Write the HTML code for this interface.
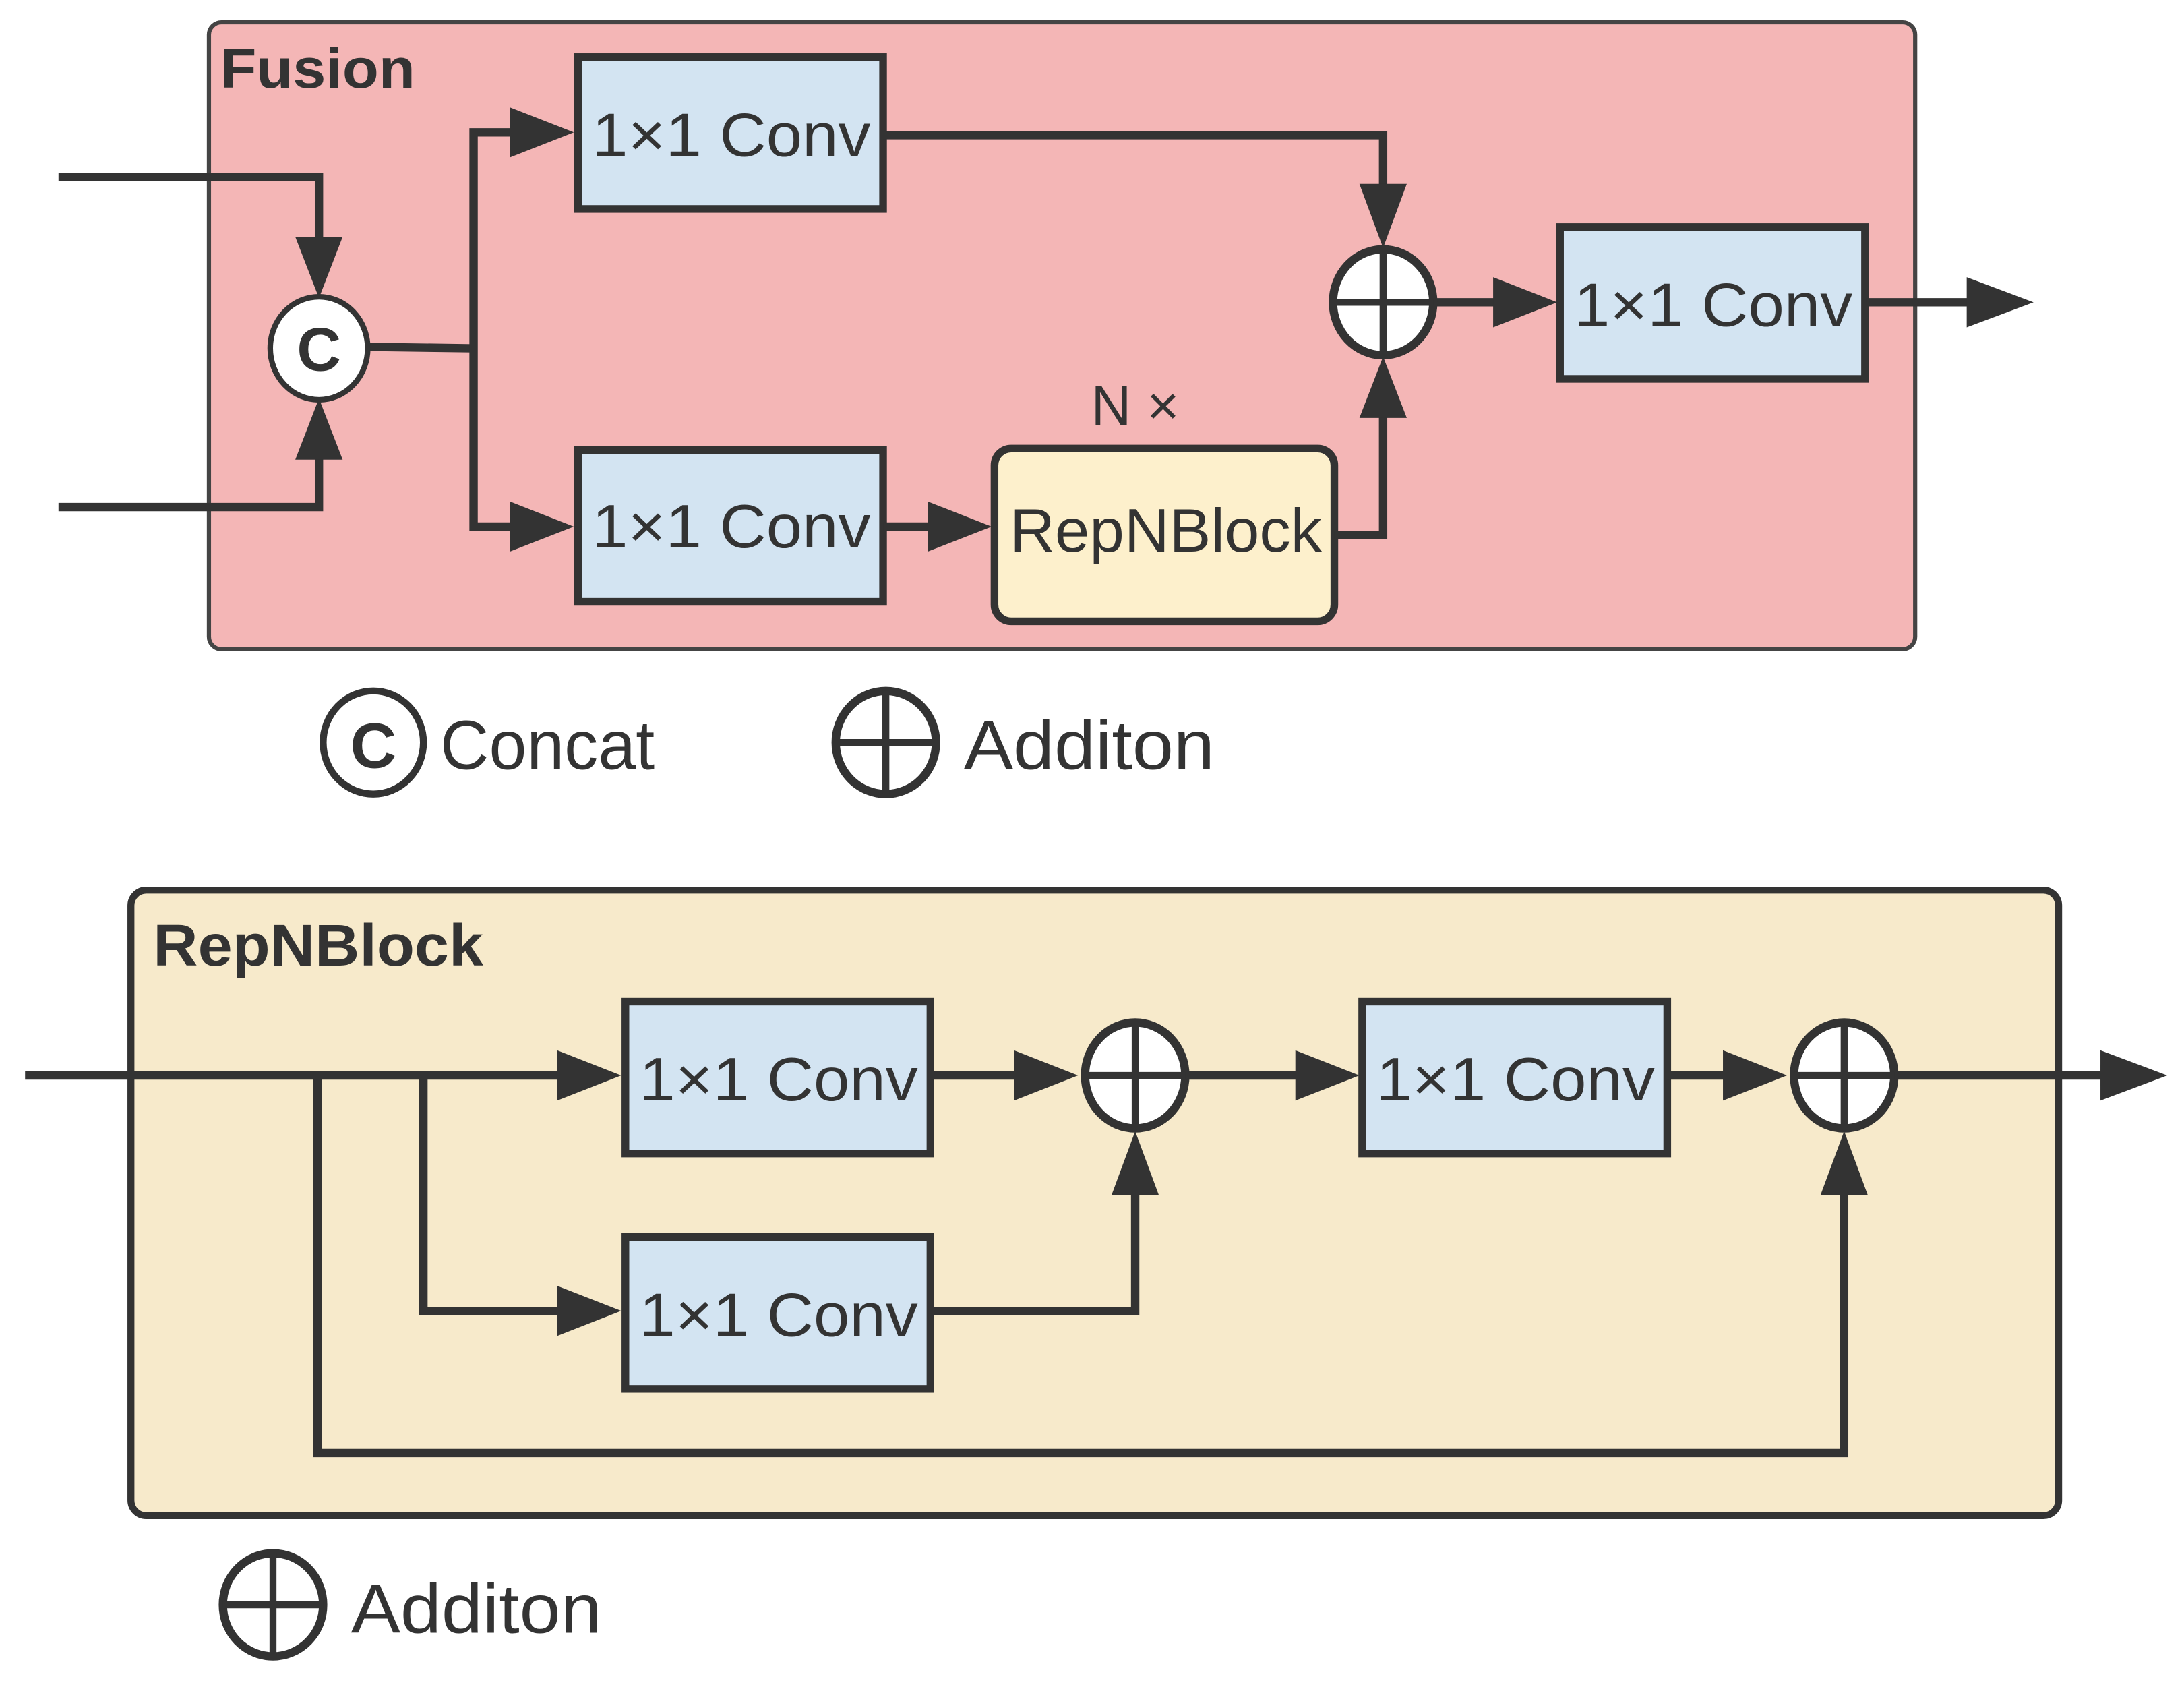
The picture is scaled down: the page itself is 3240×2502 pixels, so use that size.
<!DOCTYPE html>
<html><head><meta charset="utf-8"><style>html,body{margin:0;padding:0;background:#fff}svg{display:block}</style></head>
<body>
<svg width="3240" height="2502" viewBox="0 0 1568 1211" preserveAspectRatio="none" xmlns="http://www.w3.org/2000/svg" font-family="'Liberation Sans', 'DejaVu Sans', sans-serif">
<rect width="1568" height="1211" fill="#fff"/>
<!-- Fusion -->
<rect x="150" y="16" width="1225" height="450" rx="9" fill="#f4b6b6" stroke="#444" stroke-width="3"/>
<text x="158" y="63" font-size="40" font-weight="bold" fill="#333" textLength="140" lengthAdjust="spacingAndGlyphs">Fusion</text>
<g fill="#d3e4f2" stroke="#333" stroke-width="5.5">
<rect x="415" y="41" width="219" height="109"/>
<rect x="415" y="323" width="219" height="109"/>
<rect x="1120" y="163" width="219" height="109"/>
</g>
<rect x="714" y="322" width="244" height="124" rx="12" fill="#fdf0cc" stroke="#333" stroke-width="5.5"/>
<g font-size="44" fill="#333" text-anchor="middle">
<text x="525" y="112" textLength="200" lengthAdjust="spacingAndGlyphs">1×1 Conv</text>
<text x="525" y="393" textLength="200" lengthAdjust="spacingAndGlyphs">1×1 Conv</text>
<text x="1230" y="234" textLength="200" lengthAdjust="spacingAndGlyphs">1×1 Conv</text>
<text x="837" y="396" textLength="224" lengthAdjust="spacingAndGlyphs">RepNBlock</text>
<text x="815" y="305" font-size="40">N ×</text>
</g>
<g fill="none" stroke="#333" stroke-width="6">
<polyline points="42,127 229,127 229,180"/>
<polyline points="42,364 229,364 229,322"/>
<polyline points="264,249 340,250"/>
<polyline points="372,95 340,95 340,378 372,378"/>
<polyline points="634,97 993,97 993,140"/>
<line x1="634" y1="378" x2="672" y2="378"/>
<polyline points="958,384 993,384 993,296"/>
<line x1="1030" y1="217" x2="1078" y2="217"/>
<line x1="1340" y1="217" x2="1420" y2="217"/>
</g>
<g fill="#333">
<polygon points="212,170 229,214 246,170"/>
<polygon points="212,330 229,286 246,330"/>
<polygon points="366,77 412,95 366,113"/>
<polygon points="366,360 412,378 366,396"/>
<polygon points="976,132 993,178 1010,132"/>
<polygon points="976,300 993,256 1010,300"/>
<polygon points="666,360 712,378 666,396"/>
<polygon points="1072,199 1118,217 1072,235"/>
<polygon points="1412,199 1460,217 1412,235"/>
</g>
<ellipse cx="229" cy="250" rx="35" ry="37" fill="#fff" stroke="#333" stroke-width="4"/>
<text x="229" y="266" font-size="44" font-weight="bold" text-anchor="middle" fill="#333">C</text>
<ellipse cx="993" cy="217" rx="36" ry="38" fill="#fff" stroke="#333" stroke-width="6"/>
<path d="M957,217H1029M993,179V255" stroke="#333" stroke-width="5"/>
<!-- legend 1 -->
<ellipse cx="268" cy="533" rx="36" ry="37" fill="#fff" stroke="#333" stroke-width="5"/>
<text x="268" y="551" font-size="46" font-weight="bold" text-anchor="middle" fill="#333">C</text>
<text x="316" y="552" font-size="50" fill="#333" textLength="154" lengthAdjust="spacingAndGlyphs">Concat</text>
<ellipse cx="636" cy="533" rx="36" ry="37" fill="#fff" stroke="#333" stroke-width="6"/>
<path d="M600,533H672M636,496V570" stroke="#333" stroke-width="5"/>
<text x="692" y="552" font-size="50" fill="#333" textLength="180" lengthAdjust="spacingAndGlyphs">Additon</text>
<!-- RepNBlock -->
<rect x="94" y="639" width="1384" height="449" rx="11" fill="#f7eacb" stroke="#333" stroke-width="5"/>
<text x="110" y="693" font-size="42" font-weight="bold" fill="#333" textLength="237" lengthAdjust="spacingAndGlyphs">RepNBlock</text>
<g fill="#d3e4f2" stroke="#333" stroke-width="5.5">
<rect x="449" y="719" width="219" height="109"/>
<rect x="449" y="888" width="219" height="109"/>
<rect x="978" y="719" width="219" height="109"/>
</g>
<g font-size="44" fill="#333" text-anchor="middle">
<text x="559" y="790" textLength="200" lengthAdjust="spacingAndGlyphs">1×1 Conv</text>
<text x="559" y="959" textLength="200" lengthAdjust="spacingAndGlyphs">1×1 Conv</text>
<text x="1088" y="790" textLength="200" lengthAdjust="spacingAndGlyphs">1×1 Conv</text>
</g>
<g fill="none" stroke="#333" stroke-width="6">
<line x1="18" y1="772" x2="408" y2="772"/>
<polyline points="304,772 304,941 408,941"/>
<polyline points="228,772 228,1043 1324,1043 1324,850"/>
<line x1="668" y1="772" x2="736" y2="772"/>
<polyline points="668,941 815,941 815,850"/>
<line x1="852" y1="772" x2="936" y2="772"/>
<line x1="1197" y1="772" x2="1246" y2="772"/>
<line x1="1361" y1="772" x2="1516" y2="772"/>
</g>
<g fill="#333">
<polygon points="400,754 446,772 400,790"/>
<polygon points="400,923 446,941 400,959"/>
<polygon points="728,754 774,772 728,790"/>
<polygon points="798,858 815,812 832,858"/>
<polygon points="930,754 976,772 930,790"/>
<polygon points="1237,754 1283,772 1237,790"/>
<polygon points="1307,858 1324,812 1341,858"/>
<polygon points="1508,754 1556,772 1508,790"/>
</g>
<ellipse cx="815" cy="772" rx="36" ry="38" fill="#fff" stroke="#333" stroke-width="6"/>
<path d="M779,772H851M815,734V810" stroke="#333" stroke-width="5"/>
<ellipse cx="1324" cy="772" rx="36" ry="38" fill="#fff" stroke="#333" stroke-width="6"/>
<path d="M1288,772H1360M1324,734V810" stroke="#333" stroke-width="5"/>
<!-- legend 2 -->
<ellipse cx="196" cy="1152" rx="36" ry="37" fill="#fff" stroke="#333" stroke-width="6"/>
<path d="M160,1152H232M196,1115V1189" stroke="#333" stroke-width="5"/>
<text x="252" y="1172" font-size="50" fill="#333" textLength="180" lengthAdjust="spacingAndGlyphs">Additon</text>
</svg>
</body></html>
